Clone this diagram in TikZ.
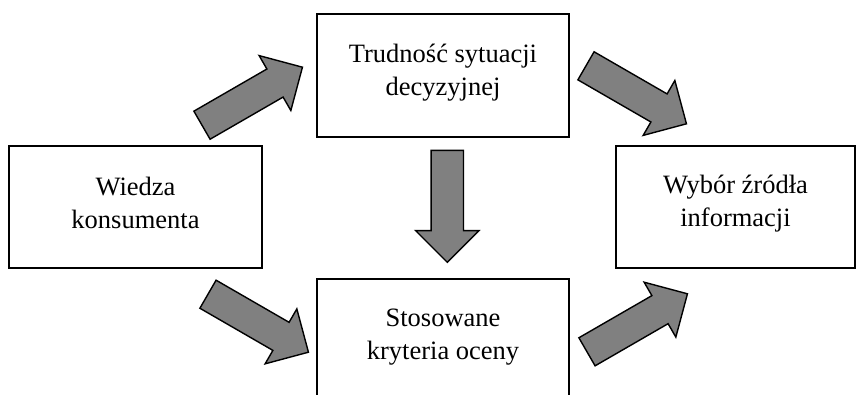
\documentclass[tikz,border=0pt]{standalone}
\usepackage{fontspec}
\setmainfont{Liberation Serif}
\usetikzlibrary{shapes.arrows}
\definecolor{arrowgray}{HTML}{808080}
\begin{document}
\begin{tikzpicture}[x=1pt,y=-1pt,
  box/.style={draw=black, line width=1.3pt, fill=white, inner sep=0pt},
  boxtext/.style={align=center, inner sep=0pt, yshift=3pt,
    font=\fontsize{26.5}{33}\selectfont},
  blockarrow/.style={single arrow, draw=black, line width=1.4pt, fill=arrowgray,
    minimum width=0pt, inner xsep=0pt, inner ysep=15.5pt,
    single arrow head extend=15.5pt, single arrow tip angle=90,
    minimum height=116pt, anchor=tip}]
\clip (0,0) rectangle (856,394);
\fill[white] (0,0) rectangle (856,394);
% boxes
\node[box, minimum width=252pt, minimum height=123pt] (top) at (443,75.5) {};
\node[box, minimum width=253pt, minimum height=122pt] (left) at (135.5,207) {};
\node[box, minimum width=239pt, minimum height=122pt] (right) at (735.5,207) {};
\node[box, minimum width=252pt, minimum height=123pt] (bottom) at (443,340.5) {};
% texts
\node[boxtext] (toptext) at (top.center) {Trudność sytuacji\\decyzyjnej};
\node[boxtext, yshift=1pt] (lefttext) at (left.center) {Wiedza\\konsumenta};
\node[boxtext] (righttext) at (right.center) {Wybór źródła\\informacji};
\node[boxtext] (bottomtext) at (bottom.center) {Stosowane\\kryteria oceny};
% block arrows (placed by their tips)
\node[blockarrow, rotate=30] (a1) at (303.3,66.7) {};
\node[blockarrow, rotate=-30] (a2) at (687.3,124.3) {};
\node[blockarrow, rotate=-90, minimum height=112pt] (a3) at (447.3,263.3) {};
\node[blockarrow, rotate=-30] (a4) at (309.3,352.7) {};
\node[blockarrow, rotate=30] (a5) at (688.3,293.3) {};
\end{tikzpicture}
\end{document}
